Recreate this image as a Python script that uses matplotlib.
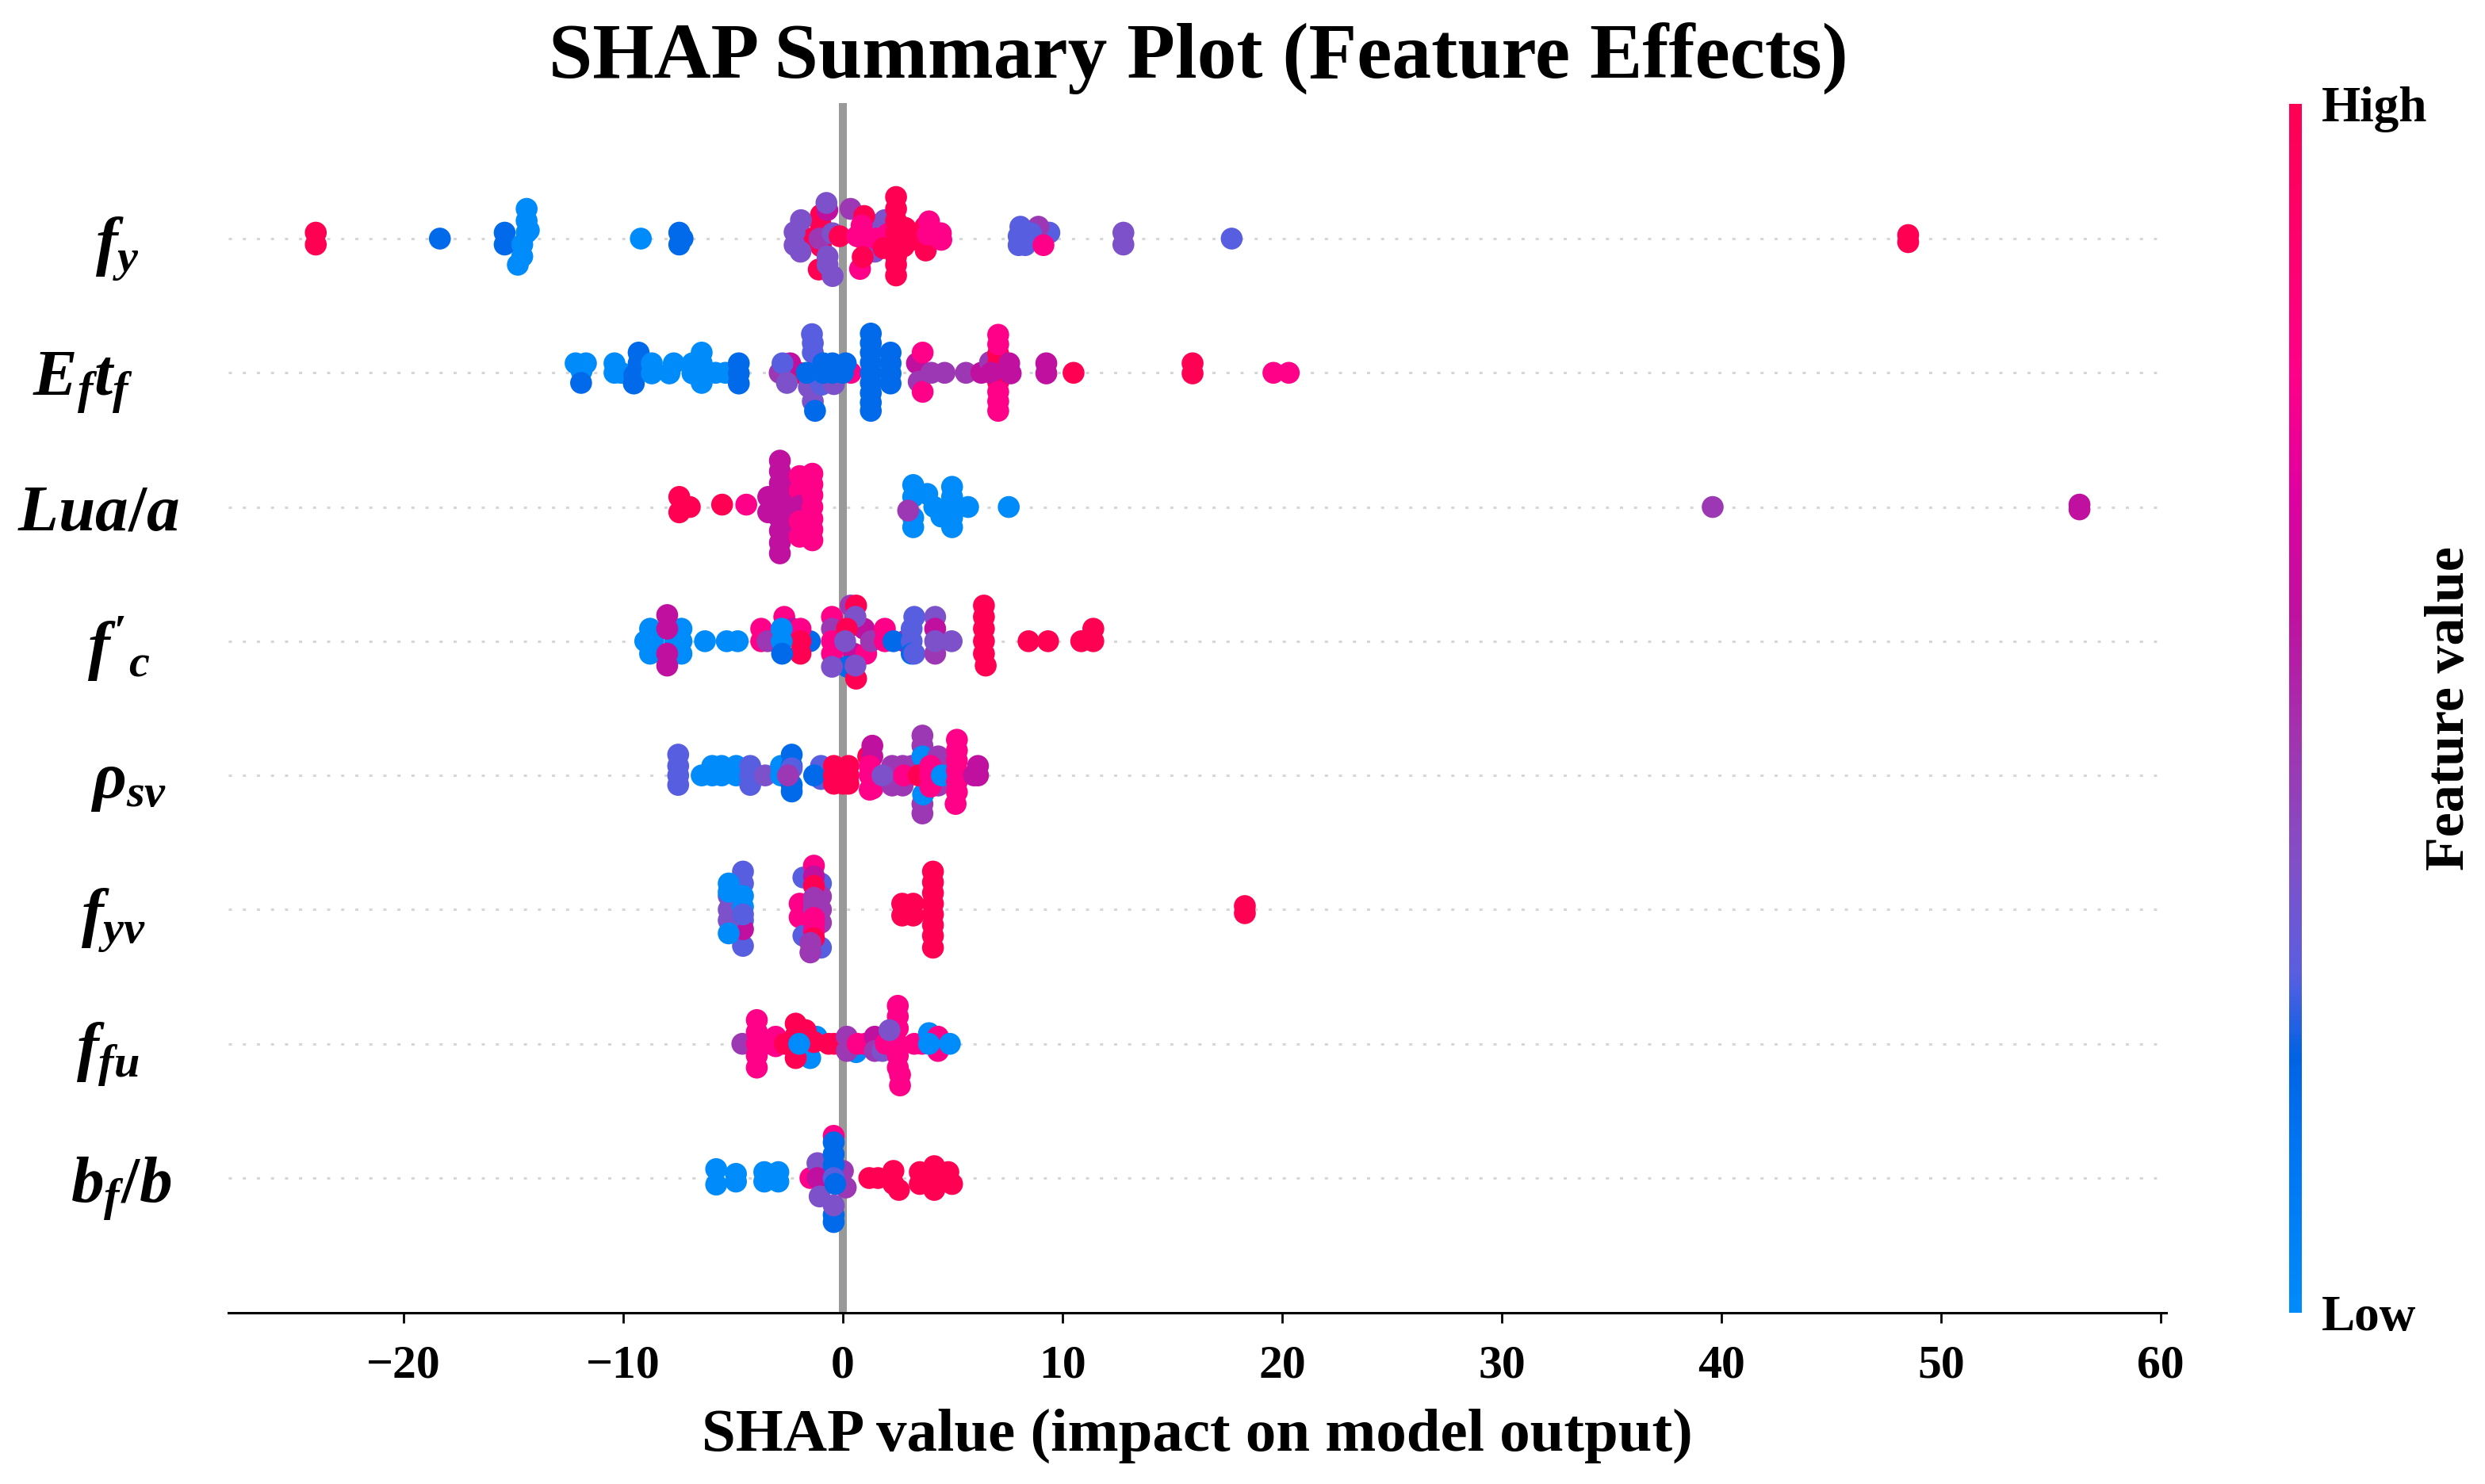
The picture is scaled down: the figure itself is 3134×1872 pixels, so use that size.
import matplotlib
matplotlib.use("Agg")
import matplotlib.pyplot as plt
from matplotlib.colors import LinearSegmentedColormap
from matplotlib.cm import ScalarMappable

plt.rcParams['font.family'] = ['Liberation Serif', 'DejaVu Serif']
plt.rcParams['font.weight'] = 'bold'
plt.rcParams['mathtext.fontset'] = 'custom'
plt.rcParams['mathtext.it'] = 'Liberation Serif:italic:bold'
plt.rcParams['mathtext.rm'] = 'Liberation Serif:bold'
plt.rcParams['mathtext.bf'] = 'Liberation Serif:bold'

# feature-value levels
B, D, I, V, P, M, K, R = 0.0, 0.18, 0.28, 0.36, 0.46, 0.58, 0.78, 1.0

feature_labels = [r"$f_{y}$", r"$E_{f}t_{f}$", r"$Lua/a$", r"$f'_{c}$",
                  r"$\rho_{sv}$", r"$f_{yv}$", r"$f_{fu}$", r"$b_{f}/b$"]
x_ticks = [-20, -10, 0, 10, 20, 30, 40, 50, 60]

# (SHAP value, swarm lane, feature value)
fy_points = [
    (-24.0, .5, R), (-24.0, -.5, R), (-18.35, 0, D), (-15.4, .5, D), (-15.4, -.5, D),
    (-14.4, 2.5, B), (-14.4, 1.5, B), (-14.4, .5, B), (-14.3, .7, B), (-14.6, -.5, B), (-14.6, -1.5, B), (-14.8, -2.2, B),
    (-9.2, 0, B), (-7.45, .5, D), (-7.45, -.5, D), (-7.3, 0, D),
    (-1.0, 2, R), (-1.0, 1.1, R), (-.71, 2.4, M), (-1.55, 0, R), (-1.0, -.65, R), (-1.1, -2.6, R),
    (-1.91, 1.55, V), (-2.2, .55, V), (-2.2, -.55, V), (-1.93, -1.1, V), (-.75, 3, V), (-1.07, 0, P),
    (-.47, .45, V), (-.7, -1.5, V), (-.7, -2.2, V), (-.47, -3.15, V), (-.15, .2, R),
    (1.33, 1.2, V), (1.9, 1.55, V), (1.45, -1.1, V), (.35, 2.5, P), (.97, 1.9, R),
    (.85, 1.1, K), (.9, 0, K), (.65, .2, K), (1.5, 0, K), (2.05, .4, K), (.78, -2.55, K), (.9, -1.55, R), (1.85, -.8, R),
    (2.42, 3.5, R), (2.42, 2.5, R), (2.42, 1.5, R), (2.42, .5, R), (2.42, -.5, R), (2.42, -1.5, R), (2.42, -2.2, R), (2.42, -3.1, R),
    (2.84, .9, R), (3.0, -.2, R), (2.77, -.65, R), (3.77, -1, R), (3.75, 1, R), (3.5, 0, R),
    (3.92, 1.45, K), (3.86, .35, K), (4.46, .45, K), (4.48, -.1, K),
    (9.4, .5, I), (8.9, 1, P), (8.08, 1, I), (8.0, -.55, I), (8.56, .45, I), (8.3, -.55, I), (8.0, .2, I), (9.13, -.55, K),
    (12.77, .5, V), (12.77, -.5, V), (17.7, 0, I), (48.5, .3, R), (48.5, -.3, R),
]
eftf_points = [
    (-12.17, .8, B), (-11.7, .8, B), (-11.9, .15, B), (-11.92, -.85, D),
    (-10.4, .8, B), (-10.4, 0, B), (-10.1, 0, B), (-9.3, 1.7, D), (-9.3, .8, D), (-9.5, -.2, D), (-9.52, -.9, D),
    (-8.7, .8, B), (-8.7, -.05, B), (-7.7, .8, B), (-7.9, -.05, B),
    (-6.43, 1.7, B), (-6.85, .8, B), (-6.43, .8, B), (-6.85, -.05, B), (-6.43, -.05, B), (-6.43, -.85, B), (-5.8, 0, B), (-5.35, 0, B),
    (-4.74, .8, D), (-4.74, -.05, D), (-4.74, -.9, D),
    (-2.0, 0, R), (-2.4, .8, M), (-2.88, 0, P), (-2.75, .8, I), (-2.55, -.85, V), (.36, 0, K),
    (-1.41, 3.25, I), (-1.37, 2.5, I), (-1.37, 1.7, I), (-1.55, -1.2, V), (-1.37, -2.4, V), (-1.25, -.2, I), (-.97, -1, I), (-.41, -.95, V),
    (-1.65, 0, D), (-1.27, -3.2, D), (-.9, .8, D), (-.48, .8, D), (.13, .8, D), (-.48, 0, D), (0, 0, D), (-.9, 0, D),
    (1.27, 3.3, D), (1.27, 2.5, D), (1.27, 1.7, D), (1.27, .85, D), (1.27, 0, D), (1.27, -.85, D), (1.27, -1.7, D), (1.27, -2.5, D), (1.27, -3.2, D),
    (2.17, 1.7, D), (2.17, .8, D), (2.17, -.05, D), (2.17, -.9, D),
    (3.37, .8, M), (3.45, -.75, P), (3.63, 1.7, K), (3.63, -1.6, K), (4.03, 0, P), (4.63, 0, P), (5.6, 0, P), (6.3, 0, M), (6.7, .9, P),
    (7.07, 1.6, R), (7.07, .8, R), (7.07, 0, R), (7.07, -.8, R), (6.75, 0, M),
    (7.07, 3.2, K), (7.07, 2.4, K), (7.07, -1.6, K), (7.07, -2.4, K), (7.07, -3.2, K), (7.57, .8, M), (7.64, -.05, M),
    (9.26, .8, M), (9.26, -.05, M), (10.5, 0, R), (15.92, .8, R), (15.92, -.05, R), (19.6, 0, K), (20.3, 0, K),
]
luaa_points = [
    (-7.45, .85, R), (-7.45, -.45, R), (-6.97, 0, R), (-5.5, .2, R), (-4.4, .2, K),
    (-2.87, 3.9, M), (-2.87, 3, M), (-2.87, 2, M), (-2.87, 1, M), (-2.87, 0, M), (-2.87, -1, M), (-2.87, -2, M), (-2.87, -3, M), (-2.87, -3.9, M),
    (-3.4, .85, M), (-3.4, -.45, M), (-2.55, 1.3, M), (-2.55, 0, M), (-2.55, -1.3, M),
    (-1.97, 2.6, K), (-1.97, 1.4, K), (-1.97, .1, M), (-1.97, -1.2, K), (-1.97, -2.5, K),
    (-1.39, 2.8, K), (-1.39, 1.9, K), (-1.39, 1, K), (-1.39, 0, K), (-1.39, -1, K), (-1.39, -1.9, K), (-1.39, -2.8, K),
    (3.2, 1.85, B), (3.2, .85, B), (3.2, -.9, B), (3.2, -1.7, B), (2.97, -.3, P),
    (3.84, 1.1, B), (4.16, 0, B), (4.48, -.8, B), (4.97, 1.7, B), (4.97, .85, B), (4.97, -.2, B), (4.97, -.9, B), (4.97, -1.7, B),
    (5.7, 0, B), (7.55, 0, B), (39.6, 0, P), (56.3, .2, M), (56.3, -.2, M),
]
fc_points = [
    (-8.78, 1.05, B), (-9.0, 0, B), (-8.64, 0, B), (-8.78, -1.05, B), (-7.35, 1.05, B), (-7.64, 0, B), (-7.35, 0, B), (-7.35, -1.05, B),
    (-8.0, 2.2, M), (-8.0, 1.05, M), (-8.0, -1.05, M), (-8.0, -2.05, M),
    (-6.28, 0, B), (-5.29, 0, B), (-4.79, 0, B),
    (-3.72, 1.05, K), (-3.72, 0, K), (-3.43, 0, P), (-2.67, 2.05, K), (-2.3, 1.05, M), (-1.5, 0, D),
    (-1.93, 1.05, K), (-1.93, 0, R), (-1.93, -1.05, R), (-2.79, 1.05, B), (-2.79, 0, B), (-2.77, -1.05, D),
    (-.5, 2.05, K), (-.5, 1.05, P), (-.5, -1.05, K), (-.5, 0, K), (.35, 3, P), (.96, 1.05, M), (.5, -1.05, M), (1.06, -1.05, K),
    (.2, -2.15, D), (.6, -3.15, R), (.6, 3, R), (.57, 2.05, V), (.18, 1.05, R), (.1, 0, V), (-.5, -2.15, V), (.57, -2.05, V), (1.28, 0, P),
    (1.91, 1.05, K), (1.91, 0, K), (2.8, 0, M), (2.3, 0, D),
    (3.25, 2.05, I), (3.13, 1.05, I), (3.13, 0, I), (3.13, -1.05, D), (3.25, -1.05, I),
    (4.2, 2.05, V), (4.2, 1.05, M), (4.2, -1.05, P), (4.2, 0, V), (4.95, 0, V),
    (6.42, 3, R), (6.42, 2.05, R), (6.42, 1.05, R), (6.42, 0, R), (6.42, -1.05, R), (6.5, -2.05, R),
    (8.45, 0, R), (9.34, 0, R), (10.85, 0, R), (11.4, 1.05, R), (11.4, 0, R),
]
rhosv_points = [
    (-7.5, 1.75, I), (-7.5, .8, I), (-7.5, 0, I), (-7.5, -.8, I),
    (-6.43, 0, B), (-5.95, .8, B), (-5.95, 0, B), (-5.52, .8, B), (-5.52, 0, B), (-4.86, .8, B), (-4.86, 0, B),
    (-4.22, .8, I), (-4.22, 0, I), (-4.22, -.8, I), (-3.54, 0, V),
    (-2.82, .8, B), (-2.82, 0, B), (-2.33, 1.75, D), (-2.33, .8, D), (-2.33, -.8, D), (-2.33, -1.35, D), (-2.33, .6, I), (-2.5, 0, P),
    (-1.0, .8, I), (-1.0, -.3, I), (-1.31, 0, D),
    (-.41, .8, R), (-.41, 0, R), (-.41, -.7, R), (.25, .8, R), (.25, 0, R), (.25, -.7, R), (-.1, 0, R), (0, -.7, R),
    (1.15, 1.6, R), (1.34, 2.5, M), (1.34, 1.6, M), (1.22, .8, K), (1.22, 0, K), (1.22, -1.2, K), (1.35, -1.1, K),
    (2.24, .8, P), (2.24, 0, P), (2.24, -.85, P), (2.72, .8, P), (2.72, -.85, P), (3.14, .8, P), (1.8, 0, V), (2.78, 0, K),
    (3.62, 3.35, P), (3.62, 2.5, P), (3.62, 1.6, B), (3.62, -2.4, P), (3.62, -3.2, P), (3.65, -1.6, B), (3.44, 0, R),
    (4.34, 1.6, P), (4.34, .8, P), (4.34, -.85, P), (3.98, .8, K), (3.98, 0, K), (3.98, -.95, K), (4.5, 0, B),
    (5.19, 3, K), (5.19, 2.1, K), (5.19, 1.25, K), (5.19, .4, K), (5.19, -.5, K), (5.19, -1.4, K), (5.13, -2.4, K),
    (6.15, .8, M), (6.15, 0, M), (5.97, 0, M),
]
fyv_points = [
    (-4.55, 3.2, I), (-4.55, 2.2, I), (-4.55, -.9, I), (-4.55, -3.05, I), (-4.55, -1.65, M), (-5.2, 0, V), (-5.2, -.9, V),
    (-5.2, 1.15, V), (-4.9, -.4, V), (-4.9, 1.6, I),
    (-5.2, 2.2, B), (-5.2, 1.5, B), (-5.2, -2, B), (-4.55, 1.15, B), (-4.55, .25, B), (-4.55, -.4, I),
    (-1.97, .5, K), (-1.97, -.65, K), (-1.8, 2.7, I), (-1.8, -2.2, I), (-1.0, 2.2, I), (-1.0, -3.2, I), (-1.0, 0, P), (-1.0, 1.1, P), (-1.0, -1.1, P),
    (-1.32, 3.7, K), (-1.32, 2.8, M), (-1.32, 2, R), (-1.32, 1, P), (-1.32, .5, P), (-1.32, 0, P), (-1.32, -.7, K), (-1.32, -1.15, K), (-1.32, -1.8, K), (-1.32, -2.4, R), (-1.48, -3.6, P), (-1.48, -2.8, P),
    (2.7, .5, R), (2.7, -.5, R), (3.2, .5, R), (3.2, -.5, R),
    (4.1, 3.2, R), (4.1, 2.3, R), (4.1, 1.4, R), (4.1, .5, R), (4.1, -.4, R), (4.1, -1.3, R), (4.1, -2.2, R), (4.1, -3.2, R),
    (18.3, .3, R), (18.3, -.3, R),
]
ffu_points = [
    (-4.58, 0, P), (-3.92, 2, K), (-3.92, 1, K), (-3.92, 0, K), (-3.92, -1, K), (-3.92, -2, K), (-3.54, 0, K), (-3.06, .6, K), (-3.06, -.2, K),
    (-1.2, .6, B), (-1.49, -1.2, B), (-2.64, 0, R), (-2.15, 1.7, R), (-2.15, .7, R), (-2.15, -1.2, R), (-1.7, 1.15, R), (-1.32, .15, R), (-1.99, 0, B),
    (-.65, 0, R), (-.4, 0, R), (.6, -.7, B), (.18, .6, P), (.18, -.6, P), (.67, 0, K), (1.0, 0, K), (1.45, .6, M), (1.45, -.6, P), (1.8, -.6, V),
    (2.5, 3.2, K), (2.5, 2.3, K), (2.5, 1.3, K), (2.5, 0, K), (2.5, -1, K), (2.5, -2, K), (2.6, -2.6, K), (2.6, -3.5, K), (1.95, 0, K), (2.12, 1.15, V),
    (3.25, 0, K), (3.6, 0, K), (3.92, .9, B), (4.33, .6, K), (4.33, -.6, K), (3.92, 0, B), (4.87, 0, B),
]
bfb_points = [
    (-5.77, .75, B), (-5.77, -.55, B), (-4.87, .35, B), (-4.87, -.3, B), (-3.58, .5, B), (-3.58, -.3, B), (-2.94, .5, B), (-2.94, -.3, B),
    (-1.48, 0, K), (-1.16, 1.25, V), (-1.16, 0, M), (-1.06, -1.55, V), (0, .6, P), (.13, -.8, P), (-.42, 3.55, K),
    (-.42, 3, D), (-.42, 2, D), (-.42, 1.1, D), (-.42, 0, I), (-.35, -.5, D), (-.42, -3.1, D), (-.42, -3.7, D), (-.42, -2.3, V),
    (1.2, 0, R), (1.6, 0, R), (2.3, .6, R), (2.3, -.5, R), (2.55, -1, R), (3.5, .5, R), (3.5, -.5, R),
    (4.16, 1, R), (4.16, 0, R), (4.16, -1, R), (4.8, .5, R), (4.97, -.5, R),
]
feature_points = [fy_points, eftf_points, luaa_points, fc_points,
                  rhosv_points, fyv_points, ffu_points, bfb_points]

W, H = 3134, 1872
fig = plt.figure(figsize=(W / 100, H / 100), dpi=100)
ax = fig.add_axes([288 / W, 1 - 1656 / H, (2732 - 288) / W, (1656 - 130) / H])

cmap = LinearSegmentedColormap.from_list("red_blue", [
    (0.0, "#008bfb"), (0.14, "#0074f2"), (0.21, "#0062e4"), (0.28, "#5a5ee0"),
    (0.37, "#8050c8"), (0.47, "#a035b0"), (0.58, "#c0109f"), (0.68, "#e000a0"),
    (0.78, "#ff0088"), (1.0, "#ff0052")])

LANE = 15 / 169.3
n = len(feature_labels)
for i, pts in enumerate(feature_points):
    y0 = n - 1 - i
    ax.plot([-27.98, 60.25], [y0, y0], color="#d6d6d6", lw=2.2,
            linestyle=(0, (1.3, 4.5)), zorder=1)
    xs = [p[0] for p in pts]
    ys = [y0 + p[1] * LANE for p in pts]
    cs = [p[2] for p in pts]
    ax.scatter(xs, ys, c=cs, cmap=cmap, vmin=0, vmax=1, s=395, linewidths=0, zorder=3)

ax.axvline(0, color="#999999", lw=7.2, zorder=2)
ax.set_xlim(-27.98, 60.25)
ax.set_ylim(-1.004, 8.01)

ax.set_yticks([n - 1 - i for i in range(n)])
ax.set_yticklabels(feature_labels, fontsize=60)
right_ends = [176, 168, 226, 190, 210, 184, 176, 216]
for tick, e in zip(ax.yaxis.get_major_ticks(), right_ends):
    tick.set_pad((288 - e) * 0.72)
ax.tick_params(axis='y', length=0)

ax.set_xticks(x_ticks)
ax.set_xticklabels([str(t).replace('-', '\u2212') for t in x_ticks], fontsize=43)
ax.tick_params(axis='x', length=9, width=2, pad=20)
for s in ['top', 'left', 'right']:
    ax.spines[s].set_visible(False)
ax.spines['bottom'].set_linewidth(2.2)
ax.set_xlabel("SHAP value (impact on model output)", fontsize=55.4, fontweight='bold', labelpad=19)

fig.text(1511 / W, 1 - 74 / H, "SHAP Summary Plot (Feature Effects)", fontsize=71.6,
         fontweight='bold', ha='center', va='center')

cax = fig.add_axes([2887 / W, 1 - 1656 / H, 16 / W, (1656 - 131) / H])
cb = fig.colorbar(ScalarMappable(cmap=cmap), cax=cax)
cb.outline.set_visible(False)
cb.set_ticks([0, 1])
cb.set_ticklabels(["Low", "High"], fontsize=45.5)
cb.ax.tick_params(length=0, pad=18)
fig.text(3090 / W, 1 - 894 / H, "Feature value", rotation=90, fontsize=50.4,
         fontweight='bold', ha='center', va='center')

fig.savefig("out.png", dpi=100)
